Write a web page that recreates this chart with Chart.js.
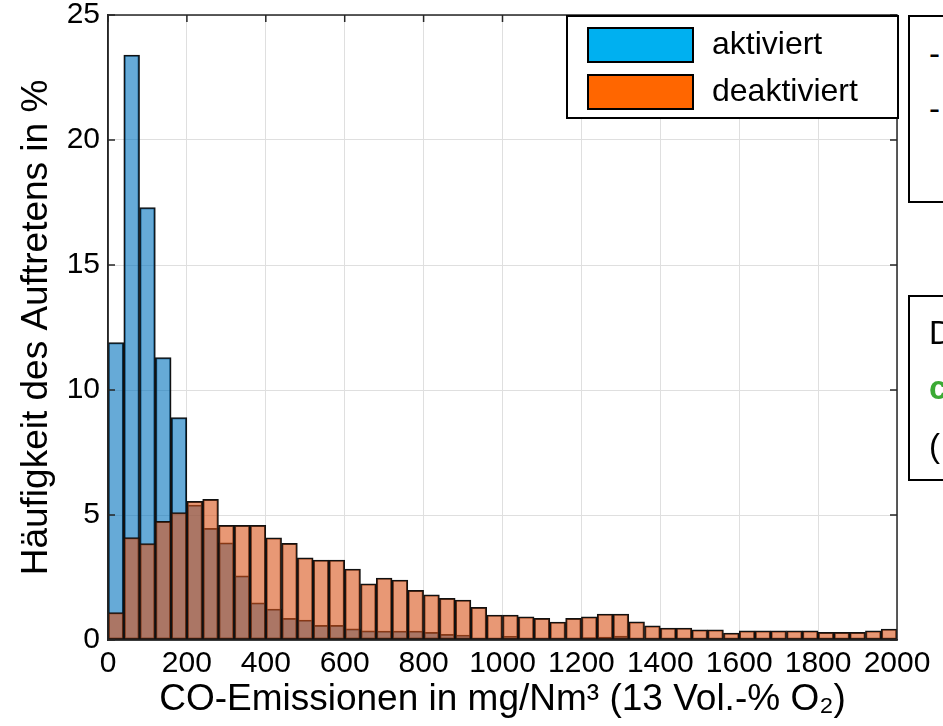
<!DOCTYPE html>
<html>
<head>
<meta charset="utf-8">
<script src="https://cdn.jsdelivr.net/npm/chart.js@4"></script>
<style>
  body { margin:0; background:#fff; overflow:hidden; }
  #wrap { position:relative; width:943px; height:726px; overflow:hidden; }
  .note { position:absolute; border:2px solid #000; background:#fff; font-family:"Liberation Sans", Arial, sans-serif; font-size:33px; color:#000; white-space:nowrap; }
  .note div { position:absolute; left:19px; }
</style>
</head>
<body>
<div id="wrap">
  <canvas id="c" width="943" height="726"></canvas>
  <div class="note" style="left:908px;top:15px;width:60px;height:184px;">
    <div style="top:18px;">-</div>
    <div style="top:73px;">-</div>
  </div>
  <div class="note" style="left:908px;top:295px;width:60px;height:182px;">
    <div style="top:17px;">D</div>
    <div style="top:72px;color:#3baa34;font-weight:bold;">c</div>
    <div style="top:130px;">(</div>
  </div>
</div>
<script>
// Klassen (Bin-Anfang in mg/Nm³), Breite 40
const binStart = [0,40,80,120,160,200,240,280,320,360,400,440,480,520,560,600,640,680,720,760,
  800,840,880,920,960,1000,1040,1080,1120,1160,1200,1240,1280,1320,1360,1400,1440,1480,1520,1560,
  1600,1640,1680,1720,1760,1800,1840,1880,1920,1960];
const binWidth = 40;

// Häufigkeit in %
const aktiviert = [11.9,23.4,17.3,11.3,8.9,5.4,4.47,3.89,2.57,1.49,1.24,0.87,0.8,0.59,0.59,0.45,0.37,0.36,0.36,0.36,
  0.31,0.23,0.2,0.07,0.05,0.15,0.05,0.05,0.04,0.05,0.1,0.12,0.16,0.04,0.02,0.02,0.02,0.02,0.02,0.02,
  0.02,0.02,0.02,0.02,0.02,0.02,0.02,0.02,0.02,0.02];
const deaktiviert = [1.1,4.1,3.86,4.75,5.1,5.55,5.63,4.59,4.59,4.59,4.09,3.87,3.29,3.2,3.2,2.84,2.25,2.48,2.4,1.99,
  1.81,1.67,1.6,1.31,1.0,1.0,0.93,0.87,0.72,0.87,0.93,1.04,1.04,0.73,0.57,0.48,0.48,0.41,0.41,0.28,
  0.37,0.37,0.37,0.37,0.37,0.31,0.31,0.31,0.37,0.44];

const xTicks = [0,200,400,600,800,1000,1200,1400,1600,1800,2000];
const legendLabels = ["aktiviert","deaktiviert"];
const legendColors = ["#00b0f0","#ff6600"];

const FONT = "'Liberation Sans', Arial, sans-serif";

function toPoints(vals){ return vals.map((v,i)=>({x: binStart[i] + binWidth/2, y: v})); }

// Rahmen, Ticks innen und Legende wie im MATLAB-Plot
const boxPlugin = {
  id: 'box',
  afterDraw(chart) {
    const ctx = chart.ctx, a = chart.chartArea;
    const xs = chart.scales.x, ys = chart.scales.y;
    ctx.save();
    ctx.strokeStyle = '#262626'; ctx.lineWidth = 1.5;
    ctx.strokeRect(a.left, a.top, a.right-a.left, a.bottom-a.top);
    ctx.beginPath();
    xs.ticks.forEach(t=>{
      let px = xs.getPixelForValue(t.value);
      ctx.moveTo(px, a.top); ctx.lineTo(px, a.top+7);
    });
    ys.ticks.forEach(t=>{
      let py = ys.getPixelForValue(t.value);
      ctx.moveTo(a.left, py); ctx.lineTo(a.left+7, py);
      ctx.moveTo(a.right, py); ctx.lineTo(a.right-7, py);
    });
    ctx.stroke();

    // Legende
    let w = 331, h = 102, lx = a.right - w + 1, ly = a.top + 1;
    ctx.fillStyle = '#fff';
    ctx.fillRect(lx, ly, w, h);
    ctx.strokeStyle = '#000'; ctx.lineWidth = 2;
    ctx.strokeRect(lx, ly, w, h);
    ctx.font = '32px ' + FONT;
    ctx.textBaseline = 'middle';
    legendLabels.forEach((lab,i)=>{
      let sy = ly + 12 + i*47;
      ctx.fillStyle = legendColors[i];
      ctx.fillRect(lx+21, sy, 105, 34);
      ctx.strokeRect(lx+21, sy, 105, 34);
      ctx.fillStyle = '#000';
      ctx.fillText(lab, lx+145, sy+17);
    });
    ctx.restore();
  }
};

new Chart(document.getElementById('c'), {
  type: 'bar',
  data: {
    datasets: [
      { label: legendLabels[0], data: toPoints(aktiviert), order: 1,
        backgroundColor: 'rgba(0,114,189,0.6)', borderColor: '#111', borderWidth: 1.5, borderSkipped: false,
        grouped: false, barPercentage: 1, categoryPercentage: 1 },
      { label: legendLabels[1], data: toPoints(deaktiviert), order: 0,
        backgroundColor: 'rgba(217,83,25,0.6)', borderColor: '#111', borderWidth: 1.5, borderSkipped: false,
        grouped: false, barPercentage: 1, categoryPercentage: 1 }
    ]
  },
  options: {
    responsive: false,
    animation: false,
    layout: { padding: { top: 15, right: 46, left: 0, bottom: 0 } },
    plugins: { legend: { display: false }, tooltip: { enabled: false } },
    scales: {
      x: {
        type: 'linear', min: 0, max: 2000, offset: false,
        afterBuildTicks: s => { s.ticks = xTicks.map(v=>({value:v})); },
        afterFit: s => { s.height = 86; },
        grid: { color: '#dfdfdf', offset: false, drawTicks: false },
        border: { display: true, color: '#262626', width: 1.5 },
        ticks: { color: '#000', padding: 6, maxRotation: 0, autoSkip: false, callback: v => String(v),
          font: { family: FONT, size: 30 } },
        title: { display: true, text: 'CO-Emissionen in mg/Nm³ (13 Vol.-% O₂)', color: '#000',
          font: { family: FONT, size: 37 }, padding: { top: 0, bottom: 4 } }
      },
      y: {
        min: 0, max: 25,
        afterFit: s => { s.width = 108; s.paddingTop = 0; s.paddingBottom = 0; },
        grid: { color: '#dfdfdf', drawTicks: false },
        border: { display: true, color: '#262626', width: 1.5 },
        ticks: { stepSize: 5, color: '#000', padding: 8, font: { family: FONT, size: 30 } },
        title: { display: true, text: 'Häufigkeit des Auftretens in %', color: '#000',
          font: { family: FONT, size: 37 }, padding: { top: 15, bottom: 0 } }
      }
    }
  },
  plugins: [boxPlugin]
});
</script>
</body>
</html>
